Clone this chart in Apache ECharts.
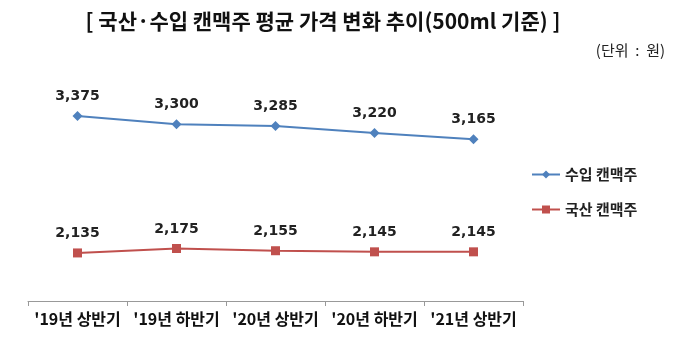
<!DOCTYPE html>
<html>
<head>
<meta charset="utf-8">
<script src="https://cdn.jsdelivr.net/npm/echarts@6/dist/echarts.min.js"></script>
<style>
  html, body { margin: 0; padding: 0; background: #fff; }
  #chart { width: 680px; height: 340px; }
</style>
</head>
<body>
<div id="chart"></div>
<script>
// Half-year periods
const categories = ["'19년 상반기", "'19년 하반기", "'20년 상반기", "'20년 하반기", "'21년 상반기"];
// Average price per 500ml can (won)
const importedBeer = [3375, 3300, 3285, 3220, 3165];
const domesticBeer = [2135, 2175, 2155, 2145, 2145];
const seriesNames = ['수입 캔맥주', '국산 캔맥주'];

const numFont = 'DejaVu Sans';
const krFont = '"Noto Sans CJK KR", "Noto Sans", sans-serif';

const chart = echarts.init(document.getElementById('chart'));

const labelStyle = {
  show: true,
  position: 'top',
  distance: 8,
  fontFamily: numFont,
  fontWeight: 'bold',
  fontSize: 14,
  color: '#222',
  formatter: p => p.value.toLocaleString('en-US')
};

chart.setOption({
  animation: false,
  backgroundColor: '#fff',
  title: [
    {
      text: '[ 국산·수입 캔맥주 평균 가격 변화 추이(500ml 기준) ]',
      left: 318,
      textAlign: 'center',
      top: 6,
      textStyle: { fontFamily: krFont, fontWeight: 'bold', fontSize: 21, color: '#111' }
    },
    {
      text: '(단위  :  원)',
      right: 10,
      top: 38,
      textStyle: { fontFamily: krFont, fontWeight: 'normal', fontSize: 15, color: '#222' }
    }
  ],
  legend: {
    orient: 'vertical',
    left: 526,
    top: 162,
    itemGap: 20,
    itemWidth: 28,
    itemHeight: 10,
    textStyle: { fontFamily: krFont, fontWeight: 'bold', fontSize: 15, color: '#222' },
    data: [seriesNames[0], seriesNames[1]]
  },
  grid: { left: 28, width: 495, top: 69, height: 232 },
  xAxis: {
    type: 'category',
    data: categories,
    boundaryGap: true,
    axisLine: { lineStyle: { color: '#999', width: 1 } },
    axisTick: { show: true, length: 5, lineStyle: { color: '#999' } },
    axisLabel: {
      fontFamily: krFont,
      fontWeight: 'bold',
      fontSize: 16,
      color: '#111',
      margin: 10,
      interval: 0
    }
  },
  yAxis: {
    type: 'value',
    min: 1700,
    max: 3800,
    show: false,
    splitLine: { show: false }
  },
  series: [
    {
      name: seriesNames[0],
      type: 'line',
      data: importedBeer,
      symbol: 'diamond',
      symbolSize: 10,
      color: '#4F81BD',
      lineStyle: { width: 2, color: '#4F81BD' },
      itemStyle: { color: '#4F81BD' },
      label: labelStyle
    },
    {
      name: seriesNames[1],
      type: 'line',
      data: domesticBeer,
      symbol: 'rect',
      symbolSize: 9,
      color: '#C0504D',
      lineStyle: { width: 2, color: '#C0504D' },
      itemStyle: { color: '#C0504D' },
      label: labelStyle
    }
  ]
});
</script>
</body>
</html>
